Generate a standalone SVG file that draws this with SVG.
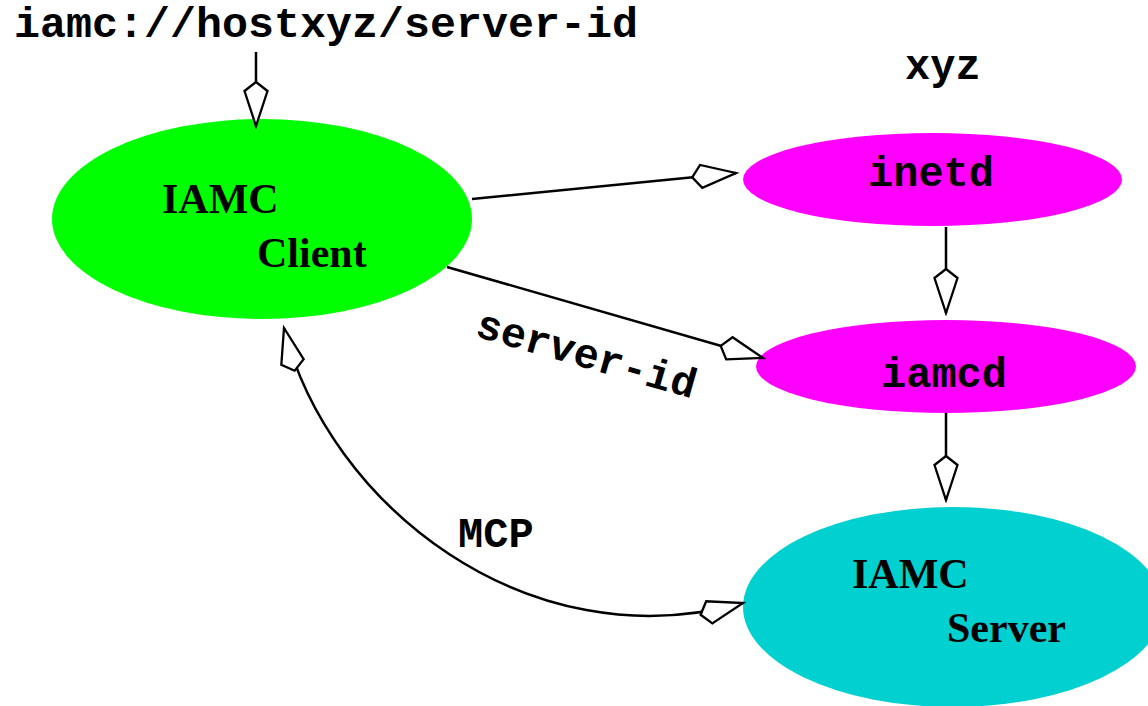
<svg xmlns="http://www.w3.org/2000/svg" width="1148" height="706" viewBox="0 0 1148 706">
  <style>
    .mono { font-family: "Liberation Mono", "Courier New", monospace; font-weight: bold; font-size: 42px; fill: #000; }
    .serif { font-family: "Liberation Serif", "Times New Roman", serif; font-weight: bold; font-size: 42px; fill: #000; }
    .edge { fill: none; stroke: #000; stroke-width: 2.5; }
  </style>
  <defs>
    <!-- open kite-shaped arrowhead, tip at the path end -->
    <marker id="kite" markerUnits="userSpaceOnUse" viewBox="-3 -15 50 30" markerWidth="50" markerHeight="30" refX="44" refY="0" orient="auto-start-reverse">
      <path d="M0,0 L9,-11.5 L44,0 L9,11.5 Z" fill="#fff" stroke="#000" stroke-width="2.3" stroke-linejoin="miter"/>
    </marker>
  </defs>

  <rect width="1148" height="706" fill="#fff"/>

  <text class="mono" x="14" y="37" font-size="43" textLength="624" lengthAdjust="spacingAndGlyphs">iamc://hostxyz/server-id</text>
  <text class="mono" x="905" y="79">xyz</text>

  <g id="client">
    <ellipse cx="262" cy="219" rx="210" ry="100" fill="#00ff00"/>
    <text class="serif" x="162" y="213">IAMC</text>
    <text class="serif" x="257" y="267">Client</text>
  </g>

  <g id="inetd">
    <ellipse cx="932.5" cy="179.5" rx="189.5" ry="46.5" fill="#ff00ff"/>
    <text class="mono" x="868" y="186">inetd</text>
  </g>

  <g id="iamcd">
    <ellipse cx="946" cy="366.5" rx="190" ry="46.5" fill="#ff00ff"/>
    <text class="mono" x="881" y="387">iamcd</text>
  </g>

  <g id="server">
    <ellipse cx="953" cy="607" rx="210" ry="100" fill="#00d0d0"/>
    <text class="serif" x="852" y="588">IAMC</text>
    <text class="serif" x="947" y="642">Server</text>
  </g>

  <g id="connectors">
    <path class="edge" d="M256,52 L256,126" marker-end="url(#kite)"/>
    <path class="edge" d="M472,199 L736,173" marker-end="url(#kite)"/>
    <path class="edge" d="M447,267 L763,358" marker-end="url(#kite)"/>
    <path class="edge" d="M946,227 L946,313" marker-end="url(#kite)"/>
    <path class="edge" d="M946,413 L946,500" marker-end="url(#kite)"/>
    <path class="edge" d="M284,328 C328,504 527,663 743,603" marker-start="url(#kite)" marker-end="url(#kite)"/>
    <text class="mono" transform="translate(474,336) rotate(16)">server-id</text>
    <text class="mono" x="458" y="547">MCP</text>
  </g>
</svg>
